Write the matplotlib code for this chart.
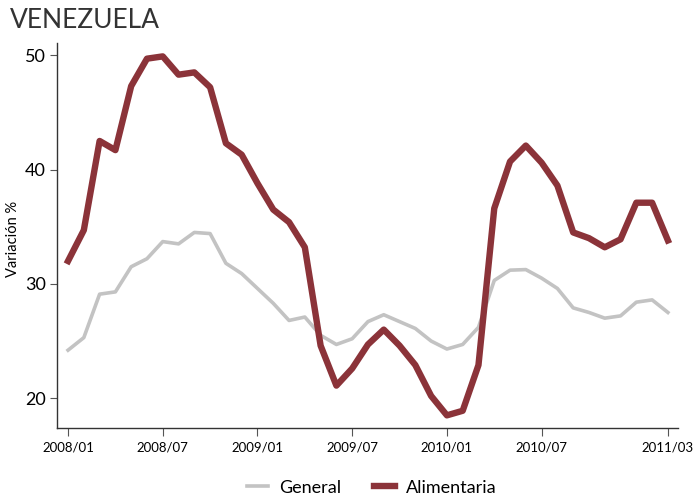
import numpy as np
import matplotlib
matplotlib.use("Agg")
import matplotlib.pyplot as plt

plt.rcParams['font.family'] = ['Lato', 'DejaVu Sans']

tick_labels = ['2008/01', '2008/07', '2009/01', '2009/07', '2010/01', '2010/07', '2011/03']
tick_pos = [0, 6, 12, 18, 24, 30, 38]

general = [24.2, 25.3, 29.1, 29.3, 31.5, 32.2, 33.7, 33.5, 34.5, 34.4,
           31.8, 30.9, 29.6, 28.3, 26.8, 27.1, 25.5, 24.7, 25.2, 26.7,
           27.3, 26.7, 26.1, 25.0, 24.3, 24.7, 26.2, 30.3, 31.2, 31.25,
           30.5, 29.6, 27.9, 27.5, 27.0, 27.2, 28.4, 28.6, 27.5]

alimentaria = [32.0, 34.7, 42.5, 41.7, 47.3, 49.7, 49.9, 48.3, 48.5, 47.2,
               42.3, 41.3, 38.8, 36.5, 35.4, 33.2, 24.6, 21.1, 22.6, 24.7,
               26.0, 24.6, 22.9, 20.2, 18.5, 18.9, 22.9, 36.6, 40.7, 42.1,
               40.6, 38.6, 34.5, 34.0, 33.2, 33.9, 37.1, 37.1, 33.8]

months = np.arange(len(general))

fig = plt.figure(figsize=(6.95, 4.97), dpi=100)
ax = fig.add_axes([0.082, 0.139, 0.894, 0.774])

ax.plot(months, general, color='#c3c3c3', lw=2.6, label='General')
ax.plot(months, alimentaria, color='#8b3339', lw=4.6, label='Alimentaria')

ax.set_xlim(-0.7, 38.66)
ax.set_ylim(17.4, 51.05)
ax.set_yticks([20, 30, 40, 50])
ax.set_xticks(tick_pos)
ax.set_xticklabels(tick_labels)

for s in ['top', 'right']:
    ax.spines[s].set_visible(False)
for s in ['left', 'bottom']:
    ax.spines[s].set_color('#333333')
    ax.spines[s].set_linewidth(1.0)

ax.tick_params(axis='y', labelsize=13, length=5, color='#555555', pad=3)
ax.tick_params(axis='x', labelsize=9.5, length=6, color='#555555', pad=4)

fig.text(0.018, 0.519, 'Variación %', fontsize=10.5, rotation=90,
         ha='center', va='center')
fig.text(0.014, 0.958, 'VENEZUELA', fontsize=19, color='#333333', va='center')

fig.legend(loc='lower center', bbox_to_anchor=(0.535, -0.03), ncol=2,
           frameon=False, fontsize=13, handlelength=1.2, handletextpad=0.6,
           columnspacing=1.8)

fig.savefig('out.png', dpi=100)
